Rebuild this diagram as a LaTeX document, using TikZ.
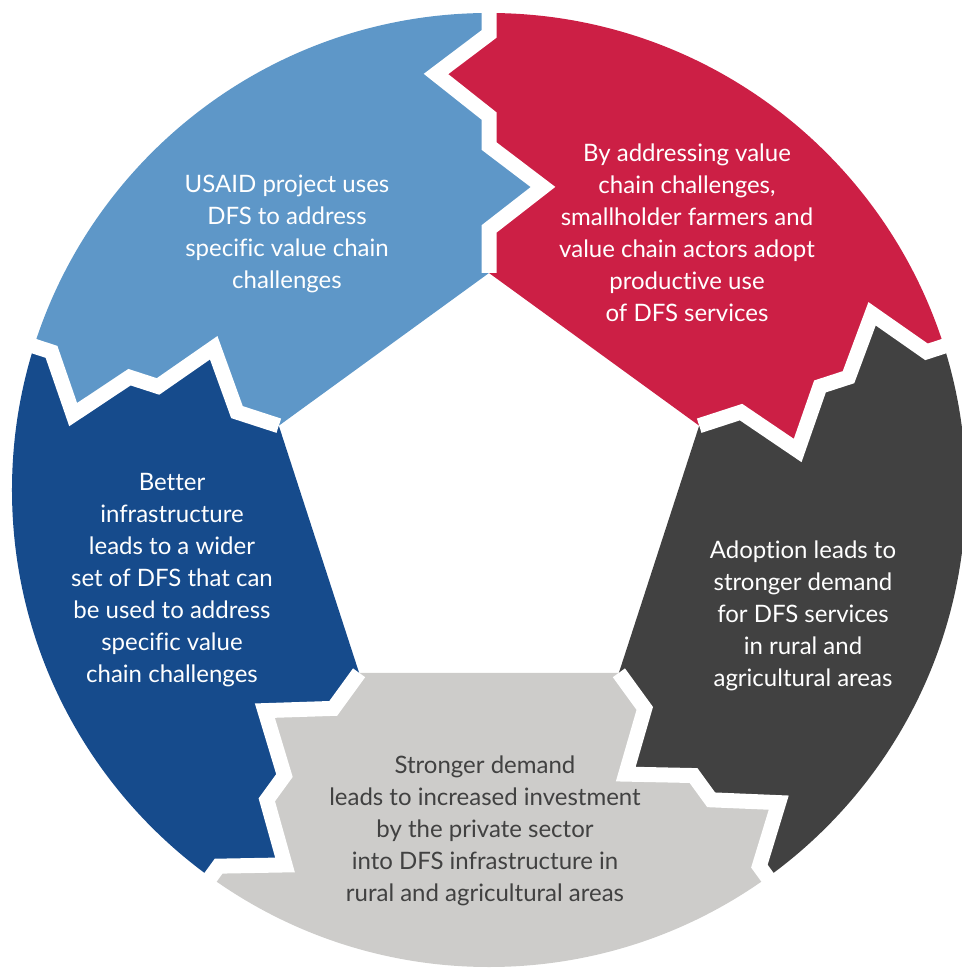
\documentclass[tikz,border=0pt]{standalone}
\usepackage{fontspec}
\setmainfont{Lato}[Ligatures=NoCommon]

\definecolor{paleblue}{HTML}{5E97C8}
\definecolor{crimson}{HTML}{CC1F45}
\definecolor{charcoal}{HTML}{414141}
\definecolor{silver}{HTML}{CDCCCA}
\definecolor{navy}{HTML}{164B8C}

\tikzset{
  gap/.style={draw=white,line width=15pt,line join=miter},
  caption/.style={align=center,text=white,font=\fontsize{24}{32}\selectfont},
}

% zigzag border between two pieces, drawn along the ray at angle #1
\newcommand{\zigout}[1]{([rotate=#1]221,0) -- ([rotate=#1]265,0) -- ([rotate=#1]307,-54)
  -- ([rotate=#1]348,0) -- ([rotate=#1]378,0) -- ([rotate=#1]420,53)
  -- ([rotate=#1]460,0) -- ([rotate=#1]720,0)}
\newcommand{\zigin}[1]{([rotate=#1]720,0) -- ([rotate=#1]460,0) -- ([rotate=#1]420,53)
  -- ([rotate=#1]378,0) -- ([rotate=#1]348,0) -- ([rotate=#1]307,-54)
  -- ([rotate=#1]265,0) -- ([rotate=#1]221,0)}

\begin{document}
\begin{tikzpicture}[x=1pt,y=1pt]

\useasboundingbox (-489,-474) rectangle (472,494);

\coordinate (hub) at (0,4);

\begin{scope}
\clip (hub) circle (477);
\fill[paleblue] \zigout{162} -- (126:900) -- \zigin{90} -- cycle;
\fill[crimson] \zigout{90} -- (54:900) -- \zigin{18} -- cycle;
\fill[charcoal] \zigout{18} -- (-18:900) -- \zigin{-54} -- cycle;
\fill[silver] \zigout{-54} -- (-90:900) -- \zigin{-126} -- cycle;
\fill[navy] \zigout{-126} -- (-162:900) -- \zigin{162} -- cycle;
\end{scope}

\draw[gap] \zigout{90};
\draw[gap] \zigout{18};
\draw[gap] \zigout{-54};
\draw[gap] \zigout{-126};
\draw[gap] \zigout{162};

\node[caption] (usaid) at (-202,260)
  {USAID project uses\\DFS to address\\specific value chain\\challenges};
\node[caption] (adopt) at (198,261)
  {By addressing value\\chain challenges,\\smallholder farmers and\\value chain actors adopt\\productive use\\of DFS services};
\node[caption] (demand) at (314,-122)
  {Adoption leads to\\stronger demand\\for DFS services\\in rural and\\agricultural areas};
\node[caption,text=charcoal] (invest) at (-4,-337)
  {Stronger demand\\leads to increased investment\\by the private sector\\into DFS infrastructure in\\rural and agricultural areas};
\node[caption] (infra) at (-317,-86)
  {Better\\infrastructure\\leads to a wider\\set of DFS that can\\be used to address\\specific value\\chain challenges};

\end{tikzpicture}
\end{document}
